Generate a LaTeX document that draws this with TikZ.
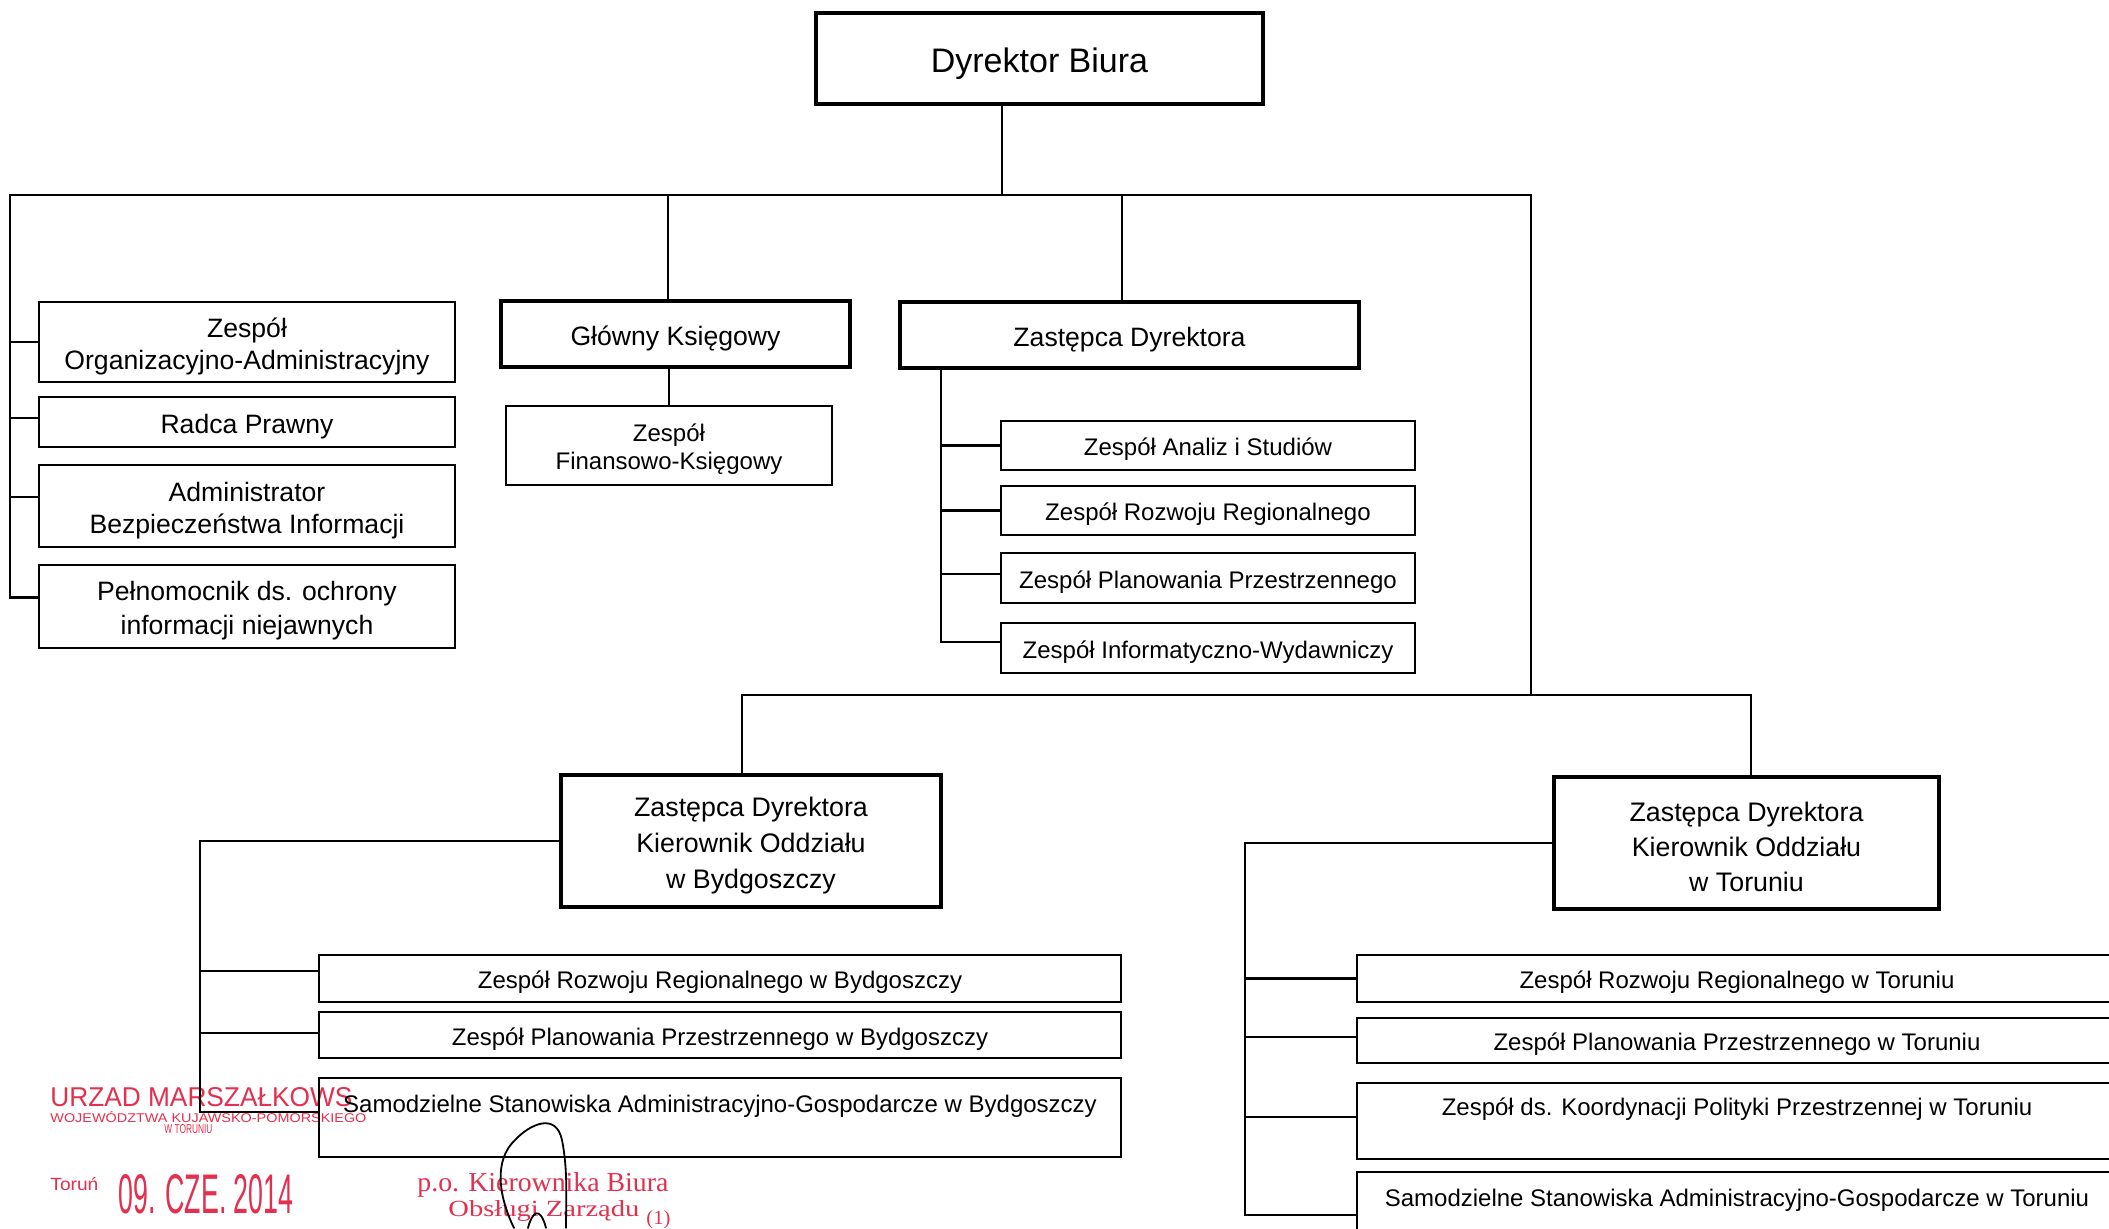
\documentclass[tikz,border=0pt]{standalone}
\usepackage{fontspec}
\setmainfont{Liberation Sans}
\newfontfamily\stampserif{Liberation Serif}
\usepackage{graphicx}
\definecolor{stampred}{RGB}{226,48,78}
\newcommand{\dnstrut}{\rule{0pt}{1.05em}}
\tikzset{
  box/.style={draw, line width=1.3pt, inner sep=0pt, align=center},
  headbox/.style={draw, line width=2.2pt, inner sep=0pt, align=center},
  conn/.style={line width=1.1pt},
  upper/.style={text height=9pt, text depth=14.4pt},
  small/.style={font=\fontsize{12}{14}\selectfont},
  mid/.style={font=\fontsize{13.3}{16}\selectfont},
  stamptext/.style={text=stampred, inner sep=0pt, anchor=base west},
  sign/.style={line width=0.9pt, line cap=round},
}
\begin{document}
\begin{tikzpicture}[x=0.5pt,y=-0.5pt]
\useasboundingbox (0,0) rectangle (2109,1228);
\clip (0,0) rectangle (2109,1228);
\fill[white] (0,0) rectangle (2109,1228);

% ---------- top ----------
\node[headbox, minimum width=223.5pt, minimum height=45.5pt, font=\fontsize{17}{20}\selectfont] (dyr) at (1039.5,58.5) {\dnstrut Dyrektor Biura};

% left column
\node[box, mid, minimum width=208pt, minimum height=40pt]   (zoa) at (247,342)   {\dnstrut Zespół\\Organizacyjno-Administracyjny};
\node[box, mid, minimum width=208pt, minimum height=25pt]   (rp)  at (247,422)   {\dnstrut Radca Prawny};
\node[box, mid, minimum width=208pt, minimum height=41pt]   (abi) at (247,506)   {\dnstrut Administrator\\Bezpieczeństwa Informacji};
\node[box, minimum width=208pt, minimum height=41.5pt, font=\fontsize{13.3}{17}\selectfont] (pon) at (247,606.5) {\dnstrut Pełnomocnik ds. ochrony\\informacji niejawnych};

% Główny Księgowy
\node[headbox, mid, minimum width=174.5pt, minimum height=33pt] (gk)  at (675.5,334) {\dnstrut Główny Księgowy};
\node[box, small, minimum width=163pt, minimum height=39.5pt]   (zfk) at (669,445.5)  {\dnstrut Zespół\\Finansowo-Księgowy};

% Zastępca Dyrektora
\node[headbox, mid, minimum width=229.5pt, minimum height=33pt] (zd) at (1129.5,335) {\dnstrut Zastępca Dyrektora};
\node[box, small, minimum width=207pt, minimum height=24.5pt] (zas) at (1208,445.5) {\dnstrut Zespół Analiz i Studiów};
\node[box, small, minimum width=207pt, minimum height=24.5pt] (zrr) at (1208,510.5) {\dnstrut Zespół Rozwoju Regionalnego};
\node[box, small, minimum width=207pt, minimum height=25pt]   (zpp) at (1208,578)   {\dnstrut Zespół Planowania Przestrzennego};
\node[box, small, minimum width=207pt, minimum height=25pt]   (ziw) at (1208,648)   {\dnstrut Zespół Informatyczno-Wydawniczy};

% Bydgoszcz
\node[headbox, minimum width=190pt, minimum height=66pt, font=\fontsize{13.4}{18}\selectfont] (byd) at (751,841) {\dnstrut Zastępca Dyrektora\\Kierownik Oddziału\\w Bydgoszczy};
\node[box, small, minimum width=401pt, minimum height=23.5pt] (rozb)  at (720,978.5) {\dnstrut Zespół Rozwoju Regionalnego w Bydgoszczy};
\node[box, small, minimum width=401pt, minimum height=23pt]   (planb) at (720,1035)  {\dnstrut Zespół Planowania Przestrzennego w Bydgoszczy};

% Toruń
\node[headbox, minimum width=192.5pt, minimum height=66pt, font=\fontsize{13.4}{17.5}\selectfont] (tor) at (1746.5,843) {\dnstrut Zastępca Dyrektora\\Kierownik Oddziału\\w Toruniu};
\node[box, small, minimum width=380pt, minimum height=23.5pt] (rozt)  at (1737,978.5)  {\dnstrut Zespół Rozwoju Regionalnego w Toruniu};
\node[box, small, minimum width=380pt, minimum height=22.5pt] (plant) at (1737,1040.5) {\dnstrut Zespół Planowania Przestrzennego w Toruniu};
\node[box, small, upper, minimum width=380pt, minimum height=38pt] (koord) at (1737,1121) {Zespół ds. Koordynacji Polityki Przestrzennej w Toruniu};
\node[box, small, upper, minimum width=380pt, minimum height=39.5pt] (samt) at (1737,1211.5) {Samodzielne Stanowiska Administracyjno-Gospodarcze w Toruniu};

% ---------- stamp (under the Bydgoszcz box text) ----------
\node[stamptext] (st1) at (50,1106) {\resizebox{151pt}{9.5pt}{URZAD MARSZAŁKOWS}};
\node[stamptext] (st2) at (50,1122) {\resizebox{158pt}{5.5pt}{WOJEWÓDZTWA KUJAWSKO-POMORSKIEGO}};
\node[stamptext] (st3) at (164,1133) {\resizebox{24pt}{4.5pt}{W TORUNIU}};
\node[stamptext] (st4) at (50,1190) {\resizebox{24pt}{6.5pt}{Toruń}};
\node[stamptext] (st5) at (118,1213) {\resizebox{87.5pt}{19.5pt}{09. CZE. 2014}};
\node[stamptext] (st6) at (417,1191) {\resizebox{125.5pt}{9.5pt}{\stampserif p.o. Kierownika Biura}};
\node[stamptext] (st7) at (448,1216) {\resizebox{95.5pt}{8pt}{\stampserif Obsługi Zarządu}};
\node[stamptext] (st8) at (646,1224) {\resizebox{12pt}{7pt}{\stampserif (1)}};

% Samodzielne Bydgoszcz box drawn over the stamp
\node[box, small, upper, minimum width=401pt, minimum height=39.5pt] (samb) at (720,1117.5) {Samodzielne Stanowiska Administracyjno-Gospodarcze w Bydgoszczy};

% signature
\draw[sign] (514,1228) .. controls (498,1195) and (494,1160) .. (515,1140)
            .. controls (530,1124) and (556,1112) .. (562,1140)
            .. controls (568,1170) and (566,1200) .. (566,1228);
\draw[sign] (528,1228) .. controls (532,1212) and (540,1205) .. (546,1228);

% ---------- connectors ----------
\coordinate (jd) at (1002,195);
\coordinate (bL) at (10,195);
\coordinate (bR) at (1531,195);
\coordinate (hb) at (1531,695);
\coordinate (zv) at (941,368);
\coordinate (bv) at (200,841);
\coordinate (tv) at (1245,843);

\draw[conn] (dyr.south -| jd) -- (jd);
\draw[conn] ([yshift=4.5pt]pon.west) -| (bL) -- (bR) -- (hb);
\draw[conn] (zoa.west -| bL) -- (zoa.west);
\draw[conn] ([yshift=2pt]rp.west -| bL) -- ([yshift=2pt]rp.west);
\draw[conn] ([yshift=4.5pt]abi.west -| bL) -- ([yshift=4.5pt]abi.west);
\draw[conn] ([xshift=-3.75pt]gk.north |- bL) -- ([xshift=-3.75pt]gk.north);
\draw[conn] (gk.south -| zfk.north) -- (zfk.north);
\draw[conn] ([xshift=-3.75pt]zd.north |- bL) -- ([xshift=-3.75pt]zd.north);

\draw[conn] (zd.south -| zv) |- ([yshift=3pt]ziw.west);
\draw[conn] (zas.west -| zv) -- (zas.west);
\draw[conn] (zrr.west -| zv) -- (zrr.west);
\draw[conn] ([yshift=2pt]zpp.west -| zv) -- ([yshift=2pt]zpp.west);

\draw[conn] ([xshift=-4.5pt]byd.north) |- (hb) -| ([xshift=2.25pt]tor.north);

\draw[conn] (byd.west) -- (bv) |- ([yshift=2.75pt]samb.west);
\draw[conn] ([yshift=3.75pt]rozb.west -| bv) -- ([yshift=3.75pt]rozb.west);
\draw[conn] ([yshift=1pt]planb.west -| bv) -- ([yshift=1pt]planb.west);

\draw[conn] (tor.west) -- (tv) |- ([yshift=-1.75pt]samt.west);
\draw[conn] (rozt.west -| tv) -- (rozt.west);
\draw[conn] ([yshift=1.75pt]plant.west -| tv) -- ([yshift=1.75pt]plant.west);
\draw[conn] ([yshift=2pt]koord.west -| tv) -- ([yshift=2pt]koord.west);
\end{tikzpicture}
\end{document}
